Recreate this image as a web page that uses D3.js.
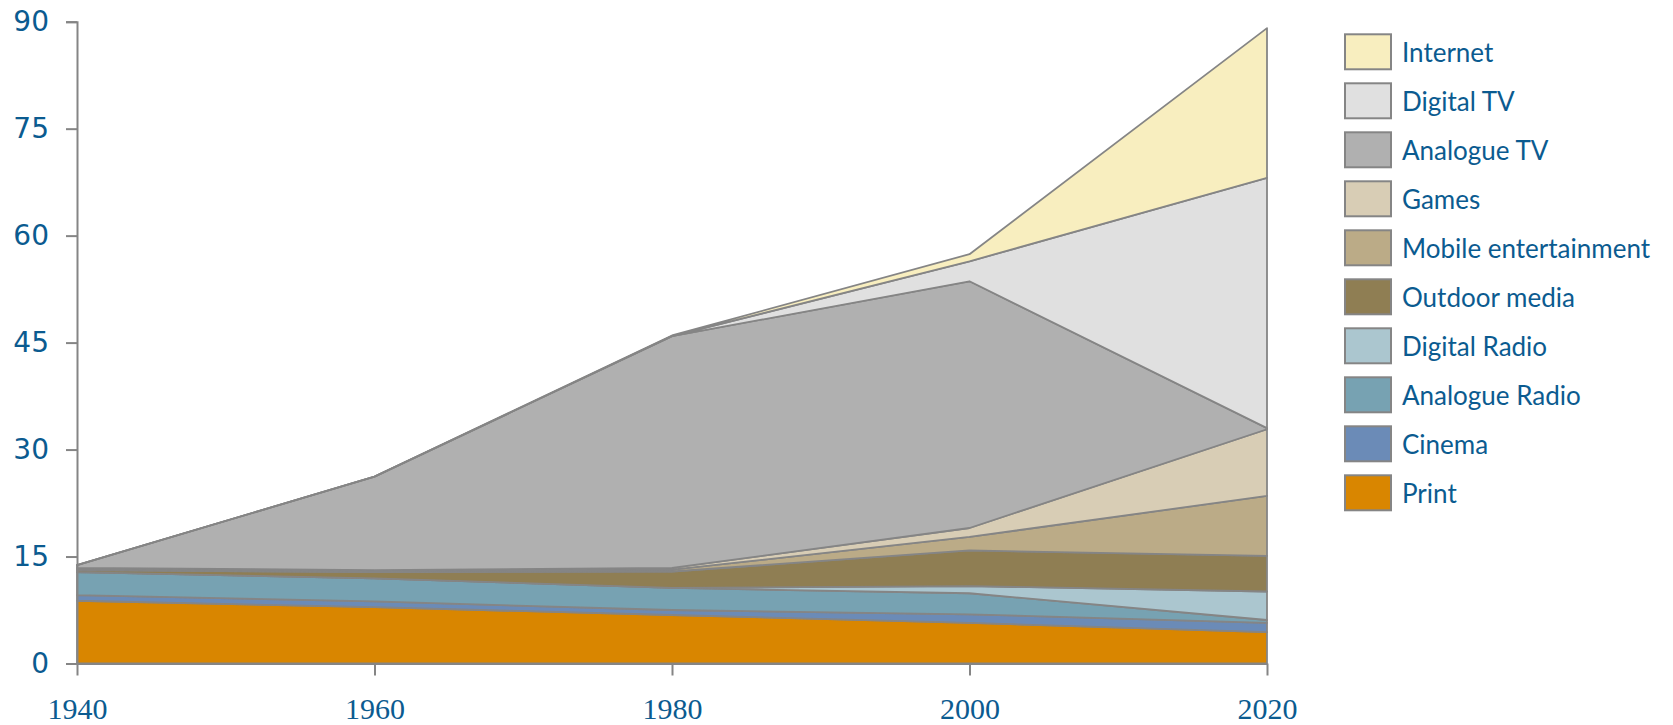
<!DOCTYPE html>
<html>
<head>
<meta charset="utf-8">
<script src="https://cdn.jsdelivr.net/npm/d3@7"></script>
<style>
  html, body { margin: 0; padding: 0; background: #fff; }
  svg { display: block; }
</style>
</head>
<body>
<svg id="chart" width="1673" height="725"></svg>
<script>
// Entertainment media consumption, stacked by channel
const years = [1940, 1960, 1980, 2000, 2020];

const print         = [8.8, 7.9, 6.8, 5.7, 4.4];
const cinema        = [0.8, 0.8, 0.7, 1.2, 1.3];
const analogueRadio = [3.2, 3.25, 3.1, 2.95, 0.4];
const digitalRadio  = [0.0, 0.0, 0.0, 1.0, 4.0];
const outdoorMedia  = [0.3, 0.85, 2.3, 5.0, 5.0];
const mobileEnt     = [0.15, 0.15, 0.25, 1.9, 8.4];
const games         = [0.15, 0.15, 0.25, 1.25, 9.35];
const analogueTV    = [0.4, 13.1, 32.5, 34.6, 0.15];
const digitalTV     = [0.0, 0.0, 0.0, 2.8, 35.1];
const internet      = [0.0, 0.0, 0.1, 1.0, 21.0];

const seriesNames = ["Print", "Cinema", "Analogue Radio", "Digital Radio", "Outdoor media",
                     "Mobile entertainment", "Games", "Analogue TV", "Digital TV", "Internet"];
const seriesValues = [print, cinema, analogueRadio, digitalRadio, outdoorMedia,
                      mobileEnt, games, analogueTV, digitalTV, internet];
const seriesColors = ["#d98600", "#6b8bb7", "#77a2b2", "#abc6cf", "#8f7e53",
                      "#bbab87", "#d8cdb5", "#b0b0b0", "#e0e0e0", "#f8eebf"];

const yTicks = [0, 15, 30, 45, 60, 75, 90];
const xTicks = [1940, 1960, 1980, 2000, 2020];

const svg = d3.select("#chart");
const textBlue = "#0b5b90";
const lineGray = "#858585";

const x = d3.scaleLinear().domain([1940, 2020]).range([77, 1267]);
const y = d3.scaleLinear().domain([0, 90]).range([663.5, 21.7]);

// Build one row per year for the stack
const rows = years.map((yr, i) => {
  const r = { year: yr };
  seriesNames.forEach((n, k) => { r[n] = seriesValues[k][i]; });
  return r;
});
const stacked = d3.stack().keys(seriesNames)(rows);

const area = d3.area()
  .x(d => x(d.data.year))
  .y0(d => y(d[0]))
  .y1(d => y(d[1]));

svg.append("g")
  .selectAll("path")
  .data(stacked)
  .join("path")
  .attr("d", area)
  .attr("fill", (d, i) => seriesColors[i])
  .attr("stroke", lineGray)
  .attr("stroke-width", 1.8)
  .attr("stroke-linejoin", "round");

// Y axis
const yAxis = svg.append("g")
  .attr("transform", `translate(${x(1940)},0)`)
  .call(d3.axisLeft(y).tickValues(yTicks).tickSize(11).tickPadding(17).tickFormat(d3.format("d")));
yAxis.select(".domain").attr("stroke", lineGray).attr("stroke-width", 2);
yAxis.selectAll(".tick line").attr("stroke", lineGray).attr("stroke-width", 2);
yAxis.selectAll(".tick text")
  .attr("fill", textBlue)
  .attr("font-family", "'DejaVu Sans', sans-serif")
  .attr("font-size", 28);

// X axis
const xAxis = svg.append("g")
  .attr("transform", `translate(0,${y(0)})`)
  .call(d3.axisBottom(x).tickValues(xTicks).tickSize(12).tickSizeOuter(0).tickPadding(0).tickFormat(d3.format("d")));
xAxis.select(".domain").attr("stroke", lineGray).attr("stroke-width", 2);
xAxis.selectAll(".tick line").attr("stroke", lineGray).attr("stroke-width", 2);
xAxis.selectAll(".tick text")
  .attr("fill", textBlue)
  .attr("font-family", "'Liberation Serif', serif")
  .attr("font-size", 30)
  .attr("dy", null)
  .attr("y", 55);

// Legend, top entry first
const legend = svg.append("g");
const legendOrder = d3.range(seriesNames.length).reverse();
legendOrder.forEach((k, j) => {
  const top = 34.3 + j * 49;
  legend.append("rect")
    .attr("x", 1345).attr("y", top)
    .attr("width", 46).attr("height", 35)
    .attr("fill", seriesColors[k])
    .attr("stroke", lineGray)
    .attr("stroke-width", 2);
  legend.append("text")
    .attr("x", 1402).attr("y", top + 28)
    .attr("fill", textBlue)
    .attr("font-family", "Lato, 'Open Sans', sans-serif")
    .attr("font-size", 26)
    .text(seriesNames[k]);
});
</script>
</body>
</html>
